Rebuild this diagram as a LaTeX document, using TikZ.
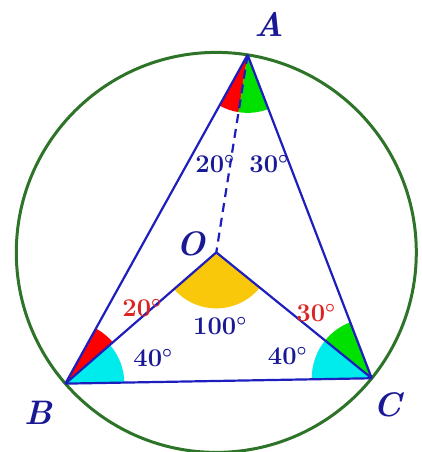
\documentclass[tikz,border=0pt]{standalone}
\usepackage{amsmath}
\usetikzlibrary{calc}
\definecolor{lineblue}{RGB}{30,30,190}
\definecolor{textblue}{RGB}{25,25,150}
\definecolor{circgreen}{RGB}{45,115,40}
\definecolor{labred}{RGB}{220,35,35}
\definecolor{fillred}{RGB}{255,0,0}
\definecolor{fillgreen}{RGB}{0,225,0}
\definecolor{fillcyan}{RGB}{0,235,235}
\definecolor{fillgold}{RGB}{250,200,10}
\tikzset{
  vlabel/.style={text=textblue, font=\fontsize{34}{34}\selectfont\bfseries\itshape, inner sep=0pt},
  alabel/.style={text=textblue, font=\fontsize{25.5}{26}\selectfont\bfseries, inner sep=0pt},
  rlabel/.style={alabel, text=labred},
  side/.style={draw=lineblue, line width=2.2pt},
  dashside/.style={side, dash pattern=on 9pt off 6pt},
  circ/.style={draw=circgreen, line width=3pt},
}
\begin{document}
\begin{tikzpicture}[x=1pt,y=1pt]
\useasboundingbox (-216.3,-199.6) rectangle (205.7,252.4);
\coordinate (O) at (0,0);
\coordinate (A) at (81:200);
\coordinate (B) at (221:200);
\coordinate (C) at (321:200);
% sectors
\fill[fillred] (A) -- ++(241:58) arc[start angle=241, end angle=261, radius=58] -- cycle;
\fill[fillgreen] (A) -- ++(261:58) arc[start angle=261, end angle=291, radius=58] -- cycle;
\fill[fillred] (B) -- ++(41:63) arc[start angle=41, end angle=61, radius=63] -- cycle;
\fill[fillcyan] (B) -- ++(1:59) arc[start angle=1, end angle=41, radius=59] -- cycle;
\fill[fillgreen] (C) -- ++(111:60) arc[start angle=111, end angle=141, radius=60] -- cycle;
\fill[fillcyan] (C) -- ++(141:60) arc[start angle=141, end angle=181, radius=60] -- cycle;
\fill[fillgold] (O) -- ++(221:56) arc[start angle=221, end angle=321, radius=56] -- cycle;
% circle
\node[circ, circle, minimum size=400pt, inner sep=0pt] (circ) at (O) {};
% triangle and segments
\draw[side] (A) -- (B);
\draw[side] (B) -- (C);
\draw[side] (C) -- (A);
\draw[side] (O) -- (B);
\draw[side] (O) -- (C);
\draw[dashside] (A) -- (O);
% vertex labels
\node[vlabel] (lA) at (53,228) {A};
\node[vlabel] (lB) at (-178.3,-160.6) {B};
\node[vlabel] (lC) at (171.2,-152.6) {C};
\node[vlabel] (lO) at (-25.3,8.9) {O};
% angle labels
\node[alabel] (a1) at (-1.3,87.9) {20$^{\boldsymbol{\circ}}$};
\node[alabel] (a2) at (52.7,87.9) {30$^{\boldsymbol{\circ}}$};
\node[rlabel] (a3) at (-74.3,-56.1) {20$^{\boldsymbol{\circ}}$};
\node[alabel] (a4) at (-63.3,-106.1) {40$^{\boldsymbol{\circ}}$};
\node[alabel] (a5) at (3.7,-74.1) {100$^{\boldsymbol{\circ}}$};
\node[rlabel] (a6) at (99.7,-61.1) {30$^{\boldsymbol{\circ}}$};
\node[alabel] (a7) at (71.2,-104.1) {40$^{\boldsymbol{\circ}}$};
\end{tikzpicture}
\end{document}
